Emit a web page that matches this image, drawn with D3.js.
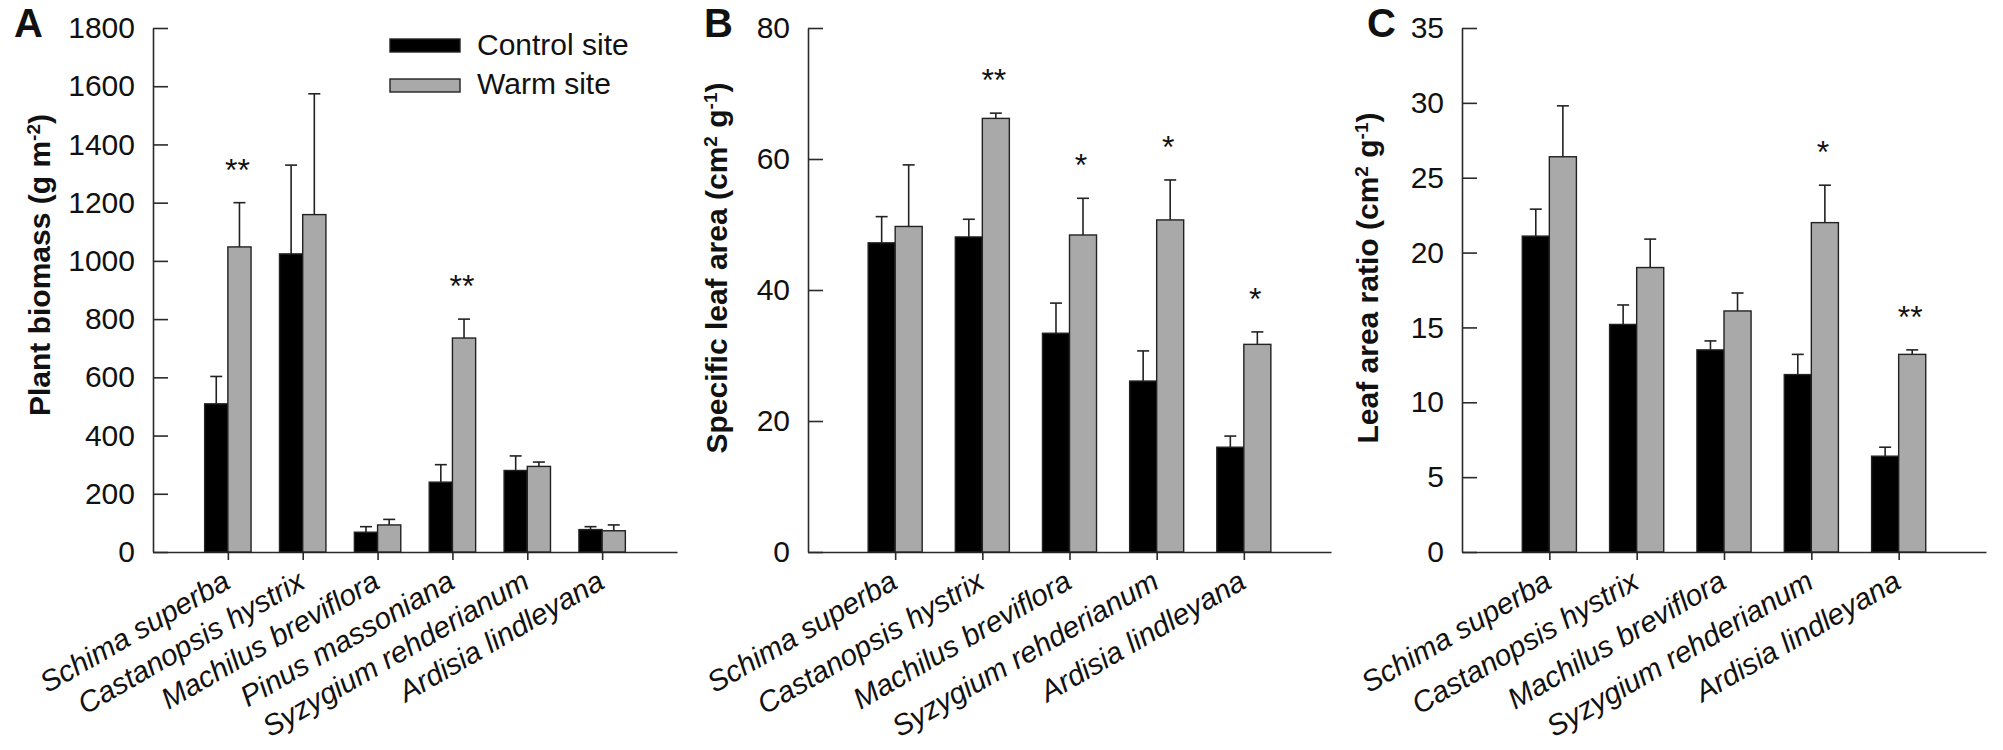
<!DOCTYPE html>
<html><head><meta charset="utf-8">
<script src="https://cdn.jsdelivr.net/npm/d3@7"></script>
<style>
body{margin:0;background:#fff}
svg{display:block}
text{font-family:"Liberation Sans",Arial,Helvetica,sans-serif;fill:#111}
</style></head>
<body><svg id="chart" width="2003" height="750"></svg>
<script>
// ---------- data ----------
const speciesA = ["Schima superba","Castanopsis hystrix","Machilus breviflora","Pinus massoniana","Syzygium rehderianum","Ardisia lindleyana"];
const speciesBC = ["Schima superba","Castanopsis hystrix","Machilus breviflora","Syzygium rehderianum","Ardisia lindleyana"];
const seriesNames = ["Control site","Warm site"];

const biomassControl = [509, 1024, 68, 240, 280, 77];
const biomassControlSE = [94, 305, 19, 60, 50, 10];
const biomassWarm = [1048, 1159, 93, 735, 294, 73];
const biomassWarmSE = [152, 415, 19, 65, 15, 20];
const biomassSig = ["**","","","**","",""];
const biomassTicks = [0,200,400,600,800,1000,1200,1400,1600,1800];

const slaControl = [47.2, 48.1, 33.4, 26.1, 16.0];
const slaControlSE = [4.0, 2.7, 4.6, 4.6, 1.7];
const slaWarm = [49.7, 66.2, 48.4, 50.7, 31.7];
const slaWarmSE = [9.4, 0.8, 5.6, 6.1, 1.9];
const slaSig = ["","**","*","*","*"];
const slaTicks = [0,20,40,60,80];

const larControl = [21.1, 15.2, 13.5, 11.85, 6.4];
const larControlSE = [1.8, 1.3, 0.6, 1.35, 0.6];
const larWarm = [26.4, 19.0, 16.1, 22.0, 13.2];
const larWarmSE = [3.4, 1.9, 1.2, 2.5, 0.3];
const larSig = ["","","","*","**"];
const larTicks = [0,5,10,15,20,25,30,35];

// ---------- drawing ----------
const svg = d3.select("#chart");
const GRAY = "#a9a9a9", AX = "#2a2a2a";
const yTop = 28, yBot = 552;

function panel(cfg){
  const n = cfg.cats.length;
  const x = d3.scaleLinear().domain([0, n+1]).range([cfg.x0, cfg.x1]);
  const y = d3.scaleLinear().domain([0, cfg.ymax]).range([yBot, yTop]);
  const step = x(1)-x(0);
  const bw = step*0.31;
  const g = svg.append("g");

  // y axis
  const ya = g.append("g").attr("transform",`translate(${cfg.x0},0)`)
    .call(d3.axisLeft(y).tickValues(cfg.ticks).tickFormat(d3.format("d"))
      .tickSizeInner(-15).tickSizeOuter(0).tickPadding(18));
  ya.selectAll("path,line").attr("stroke",AX).attr("stroke-width",1.6);
  ya.selectAll("text").attr("font-size",30).attr("fill","#111")
    .style("font-family",'"Liberation Sans",Arial,sans-serif');

  // x axis
  const xa = g.append("g").attr("transform",`translate(0,${yBot})`)
    .call(d3.axisBottom(x).tickValues(d3.range(1,n+1)).tickFormat("").tickSizeInner(8).tickSizeOuter(0));
  xa.selectAll("path,line").attr("stroke",AX).attr("stroke-width",1.6);

  // bars
  const idx = d3.range(n);
  const sets = [
    {v:cfg.ctrl, se:cfg.ctrlSE, fill:"#000", off:-bw},
    {v:cfg.warm, se:cfg.warmSE, fill:GRAY, off:0}
  ];
  sets.forEach(s=>{
    g.append("g").selectAll("line").data(idx).join("line")
      .attr("x1",i=>x(i+1)+s.off+bw/2).attr("x2",i=>x(i+1)+s.off+bw/2)
      .attr("y1",i=>y(s.v[i])).attr("y2",i=>y(s.v[i]+s.se[i]))
      .attr("stroke","#222").attr("stroke-width",1.6);
    g.append("g").selectAll("line").data(idx).join("line")
      .attr("x1",i=>x(i+1)+s.off+bw/2-6).attr("x2",i=>x(i+1)+s.off+bw/2+6)
      .attr("y1",i=>y(s.v[i]+s.se[i])).attr("y2",i=>y(s.v[i]+s.se[i]))
      .attr("stroke","#222").attr("stroke-width",1.6);
    g.append("g").selectAll("rect").data(idx).join("rect")
      .attr("x",i=>x(i+1)+s.off).attr("width",bw)
      .attr("y",i=>y(s.v[i])).attr("height",i=>yBot-y(s.v[i]))
      .attr("fill",s.fill).attr("stroke","#222").attr("stroke-width",1.4);
  });

  // significance stars
  g.append("g").selectAll("text").data(idx.filter(i=>cfg.sig[i])).join("text")
    .attr("x",i=>x(i+1)+bw/2-2).attr("y",i=>y(cfg.warm[i]+cfg.warmSE[i])-22)
    .attr("text-anchor","middle").attr("font-size",32).text(i=>cfg.sig[i]);

  // category labels
  g.append("g").selectAll("text").data(idx).join("text")
    .attr("transform",i=>`translate(${x(i+1)+4},${yBot+35}) rotate(-30)`)
    .attr("text-anchor","end")
    .attr("font-size",29.5).attr("font-style","italic").text(i=>cfg.cats[i]);

  // panel letter
  g.append("text").attr("x",cfg.letterX).attr("y",37).attr("font-size",40)
    .attr("font-weight","bold").attr("fill","#000").text(cfg.letter);

  // y title
  const t = g.append("text").attr("transform",`translate(${cfg.titleX},${cfg.titleY}) rotate(-90)`)
    .attr("text-anchor","middle").attr("font-size",30).attr("font-weight","bold");
  cfg.title.forEach(p=>{
    const ts = t.append("tspan").text(p.t);
    if(p.sup){ ts.attr("baseline-shift","super").attr("font-size",19); }
  });
}

panel({cats:speciesA, ctrl:biomassControl, ctrlSE:biomassControlSE, warm:biomassWarm, warmSE:biomassWarmSE,
  sig:biomassSig, ticks:biomassTicks, ymax:1800, x0:153, x1:677, letter:"A", letterX:14,
  titleX:50, titleY:265, title:[{t:"Plant biomass (g m"},{t:"-2",sup:1},{t:")"}]});
panel({cats:speciesBC, ctrl:slaControl, ctrlSE:slaControlSE, warm:slaWarm, warmSE:slaWarmSE,
  sig:slaSig, ticks:slaTicks, ymax:80, x0:808, x1:1331, letter:"B", letterX:704,
  titleX:727, titleY:268, title:[{t:"Specific leaf area (cm"},{t:"2",sup:1},{t:" g"},{t:"-1",sup:1},{t:")"}]});
panel({cats:speciesBC, ctrl:larControl, ctrlSE:larControlSE, warm:larWarm, warmSE:larWarmSE,
  sig:larSig, ticks:larTicks, ymax:35, x0:1462, x1:1986, letter:"C", letterX:1367,
  titleX:1378, titleY:278, title:[{t:"Leaf area ratio (cm"},{t:"2",sup:1},{t:" g"},{t:"-1",sup:1},{t:")"}]});

// legend
const leg = svg.append("g");
seriesNames.forEach((name,i)=>{
  leg.append("rect").attr("x",390).attr("y",39+i*40).attr("width",70).attr("height",13)
    .attr("fill",i===0?"#000":GRAY).attr("stroke","#222").attr("stroke-width",1.4);
  leg.append("text").attr("x",477).attr("y",55+i*39).attr("font-size",30).text(name);
});
</script></body></html>
